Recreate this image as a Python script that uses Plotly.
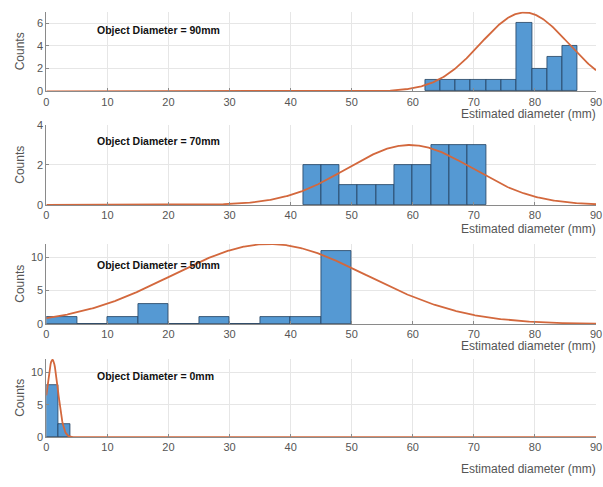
import numpy as np
import plotly.graph_objects as go

# ---- data ----
panel_labels = ["Object Diameter = 90mm", "Object Diameter = 70mm",
                "Object Diameter = 50mm", "Object Diameter = 0mm"]

edges_90 = [62, 64.5, 67, 69.5, 72, 74.5, 77, 79.5, 82, 84.5, 87]
counts_90 = [1, 1, 1, 1, 1, 1, 6, 2, 3, 4]

edges_70 = [42, 45, 48, 51, 54, 57, 60, 63, 66, 69, 72]
counts_70 = [2, 2, 1, 1, 1, 2, 2, 3, 3, 3]

edges_50 = [0, 5, 10, 15, 20, 25, 30, 35, 40, 45, 50]
counts_50 = [1, 0, 1, 3, 0, 1, 0, 1, 1, 11]

edges_0 = [0, 2, 4]
counts_0 = [8, 2]

# fitted normal curve parameters (mean, sigma, peak height)
fit_mean = [78.3, 59.5, 36.5, 1.0]
fit_sigma = [7.2, 10.3, 16.0, 0.9]
fit_peak = [6.95, 3.0, 12.0, 12.0]

y_ranges = [[0, 7], [0, 4], [0, 12], [0, 12.1]]
y_ticks = [[0, 2, 4, 6], [0, 2, 4], [0, 5, 10], [0, 5, 10]]
x_ticks = [0, 10, 20, 30, 40, 50, 60, 70, 80, 90]
x_title = "Estimated diameter (mm)"
y_title = "Counts"

# ---- layout geometry (pixels) ----
W, H = 603, 487
panel_px = [(6, 87.5), (122, 204), (244, 326), (362, 442)]  # top, bottom
title_px = [111, 229, 349, 475]
x_left, x_right = 44, 602

BAR_COLOR = "#5599d3"
EDGE_COLOR = "#23405e"
LINE_COLOR = "#d3683d"
GRID = "#e6e6e6"
AXIS = "#8a8a8a"
TICKFONT = dict(family="Liberation Sans, Arial, sans-serif", size=11, color="#555555")

all_edges = [edges_90, edges_70, edges_50, edges_0]
all_counts = [counts_90, counts_70, counts_50, counts_0]

fig = go.Figure()
layout = dict(width=W, height=H, margin=dict(l=0, r=0, t=0, b=0),
              paper_bgcolor="white", plot_bgcolor="white", showlegend=False,
              bargap=0, annotations=[])

xs = np.linspace(0, 90, 901)
label_offsets = [19, 16, 22, 17]
for i in range(4):
    n = "" if i == 0 else str(i + 1)
    xa, ya = "x" + n, "y" + n
    e = np.array(all_edges[i], dtype=float)
    centers = (e[:-1] + e[1:]) / 2
    widths = np.diff(e)
    fig.add_trace(go.Bar(x=centers, y=all_counts[i], width=widths,
                         marker=dict(color=BAR_COLOR, line=dict(color=EDGE_COLOR, width=0.8)),
                         xaxis=xa, yaxis=ya))
    curve = fit_peak[i] * np.exp(-(xs - fit_mean[i]) ** 2 / (2 * fit_sigma[i] ** 2))
    fig.add_trace(go.Scatter(x=xs, y=curve, mode="lines",
                             line=dict(color=LINE_COLOR, width=1.8),
                             xaxis=xa, yaxis=ya, cliponaxis=True))
    top, bot = panel_px[i]
    layout["xaxis" + n] = dict(domain=[x_left / W, x_right / W], range=[0, 90],
                               anchor=ya, tickvals=x_ticks, showgrid=True,
                               gridcolor=GRID, gridwidth=1, zeroline=False,
                               showline=True, linecolor=AXIS, linewidth=1,
                               ticks="inside", ticklen=3, tickcolor=AXIS,
                               tickfont=TICKFONT, ticklabeloverflow="allow")
    layout["yaxis" + n] = dict(domain=[1 - bot / H, 1 - top / H], range=y_ranges[i],
                               anchor=xa, tickvals=y_ticks[i], showgrid=True,
                               gridcolor=GRID, gridwidth=1, zeroline=False,
                               showline=True, linecolor=AXIS, linewidth=1,
                               ticks="inside", ticklen=3, tickcolor=AXIS,
                               tickfont=TICKFONT)
    layout["annotations"].append(dict(
        text="<b>" + panel_labels[i] + "</b>", xref="paper", yref="paper",
        x=93 / W, y=1 - (top + label_offsets[i]) / H,
        xanchor="left", yanchor="middle", showarrow=False,
        font=dict(family="Liberation Sans, Arial, sans-serif", size=10.5, color="#111111"),
    ))
    layout["annotations"].append(dict(
        text=x_title, xref="paper", yref="paper", x=604 / W, y=1 - title_px[i] / H,
        xanchor="right", yanchor="middle", showarrow=False,
        font=dict(family="Liberation Sans, Arial, sans-serif", size=12, color="#555555"),
    ))
    layout["annotations"].append(dict(
        text=y_title, xref="paper", yref="paper", x=17 / W, y=1 - (top + bot) / 2 / H,
        xanchor="center", yanchor="middle", textangle=-90, showarrow=False,
        font=dict(family="Liberation Sans, Arial, sans-serif", size=12, color="#555555"),
    ))

fig.update_layout(**layout)
fig.write_html("out.html", config={"displayModeBar": False},
               post_script="document.body.style.margin='0';document.body.style.overflow='hidden';")
